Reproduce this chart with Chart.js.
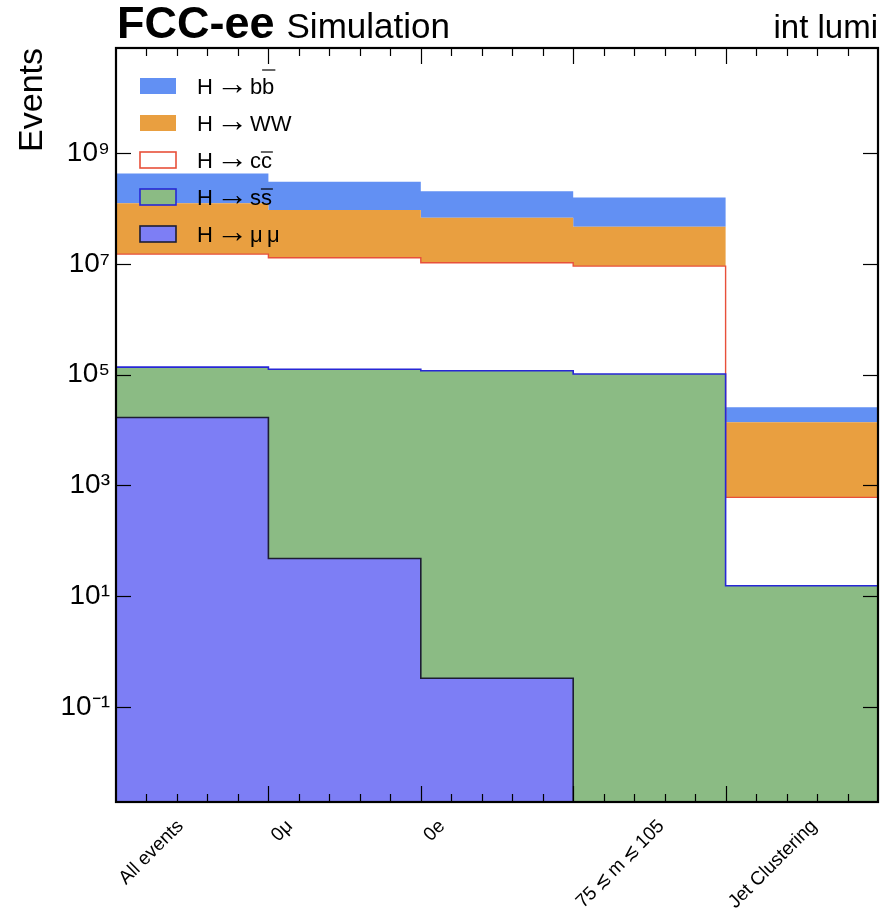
<!DOCTYPE html>
<html>
<head>
<meta charset="utf-8">
<script src="https://cdn.jsdelivr.net/npm/chart.js@4.4.1/dist/chart.umd.min.js"></script>
<style>
  html, body { margin: 0; padding: 0; background: #fff; }
  canvas { display: block; }
</style>
</head>
<body>
<canvas id="cutflow" width="891" height="910"></canvas>
<script>
// one bin per cut
const cuts = ['All events', '0\u03bc', '0e', '75\u2009\u2272\u2009m\u2009\u2272\u2009105', 'Jet Clustering'];

// events per process after each cut (not stacked)
const hmumu = [1.69e4, 48, 0.33, 0, 0];
const hss = [1.20e5, 1.25e5, 1.18e5, 1.03e5, 15.5];
const hcc = [1.486e7, 1.277e7, 1.038e7, 9.02e6, 595];
const hww = [1.09e8, 8.06e7, 5.74e7, 3.77e7, 1.32e4];
const hbb = [3.06e8, 2.10e8, 1.38e8, 1.11e8, 1.19e4];

const yTicks = [1e-1, 1e1, 1e3, 1e5, 1e7, 1e9];
const yMin = 1.93e-3;
const yMax = 7.9e10;

const FONT = "'Liberation Sans', Arial, Helvetica, sans-serif";
Chart.defaults.font.family = FONT;
Chart.defaults.color = '#000';

// stacking order: bottom first. "bar" is the letter drawn with an overline
const series = [
  { prod: '\u03bc\u2009\u03bc', bar: '', values: hmumu, fill: '#7d7ef5', edge: '#1d1d33', lw: 1.6 },
  { prod: 's', bar: 's', tall: false, values: hss, fill: '#8bbb84', edge: '#2727d6', lw: 1.6 },
  { prod: 'c', bar: 'c', tall: false, values: hcc, fill: '#ffffff', edge: '#e8503a', lw: 1.4 },
  { prod: 'WW', bar: '', values: hww, fill: '#e99f40', edge: '#e99f40', lw: 0 },
  { prod: 'b', bar: 'b', tall: true, values: hbb, fill: '#6290f3', edge: '#6290f3', lw: 0 }
];

// histogram steps: one point per bin edge, zero bins sit on the axis floor
function stepPoints(values) {
  const pts = values.map((v, i) => ({ x: i, y: v > 0 ? v : yMin }));
  pts.push({ x: values.length, y: pts[pts.length - 1].y });
  return pts;
}

const SUP = { '-': '\u207b', '0': '\u2070', '1': '\u00b9', '2': '\u00b2', '3': '\u00b3', '4': '\u2074',
  '5': '\u2075', '6': '\u2076', '7': '\u2077', '8': '\u2078', '9': '\u2079' };
function sup(n) {
  return String(n).split('').map(c => SUP[c]).join('');
}

const decorations = {
  id: 'decorations',
  afterDraw(chart) {
    const { ctx, chartArea: a, scales: { x, y } } = chart;
    ctx.save();

    function seg(x1, y1, x2, y2) {
      ctx.beginPath();
      ctx.moveTo(x1, y1);
      ctx.lineTo(x2, y2);
      ctx.stroke();
    }

    // inward ticks, mplhep style
    ctx.strokeStyle = '#000';
    ctx.lineWidth = 1.2;
    for (let k = 1; k < cuts.length * 5; k++) {
      const px = Math.round(x.getPixelForValue(k / 5)) + 0.5;
      const len = k % 5 === 0 ? 16 : 8;
      seg(px, a.bottom, px, a.bottom - len);
      seg(px, a.top, px, a.top + len);
    }
    yTicks.forEach(v => {
      const py = Math.round(y.getPixelForValue(v)) + 0.5;
      seg(a.left, py, a.left + 15, py);
      seg(a.right, py, a.right - 15, py);
    });

    ctx.lineWidth = 2.2;
    ctx.strokeRect(a.left, a.top, a.right - a.left, a.bottom - a.top);

    // rotated cut names, starting at the left edge of each bin
    const fs = 19;
    ctx.font = fs + 'px ' + FONT;
    ctx.fillStyle = '#000';
    ctx.textAlign = 'left';
    ctx.textBaseline = 'alphabetic';
    const asc = 0.74 * fs;
    cuts.forEach((c, i) => {
      const w = ctx.measureText(c).width;
      const x0 = x.getPixelForValue(i) + asc * 0.707;
      const y0 = a.bottom + 15 + (w + asc) * 0.707;
      ctx.save();
      ctx.translate(x0, y0);
      ctx.rotate(-Math.PI / 4);
      ctx.fillText(c, 0, 0);
      ctx.restore();
    });

    // legend, top of the list is the top of the stack
    const txtFont = '22px ' + FONT;
    const arrowFont = '32px ' + FONT;
    series.slice().reverse().forEach((s, r) => {
      const cy = 86 + 37 * r;
      ctx.fillStyle = s.fill;
      ctx.fillRect(140, cy - 8, 36, 16);
      if (s.lw > 0) {
        ctx.strokeStyle = s.edge;
        ctx.lineWidth = 1.6;
        ctx.strokeRect(140, cy - 8, 36, 16);
      }
      const base = cy + 8;
      let cx = 197;
      ctx.fillStyle = '#000';
      ctx.font = txtFont;
      ctx.fillText('H', cx, base);
      cx += ctx.measureText('H').width + 3;
      ctx.font = arrowFont;
      ctx.fillText('\u2192', cx, base);
      cx += ctx.measureText('\u2192').width + 2;
      ctx.font = txtFont;
      ctx.fillText(s.prod + s.bar, cx, base);
      if (s.bar) {
        const x1 = cx + ctx.measureText(s.prod).width;
        const x2 = x1 + ctx.measureText(s.bar).width;
        const by = base - (s.tall ? 24 : 16);
        ctx.strokeStyle = '#000';
        ctx.lineWidth = 1.2;
        seg(x1, by, x2 + 1, by);
      }
    });

    // header
    ctx.fillStyle = '#000';
    ctx.font = 'bold 45px ' + FONT;
    ctx.fillText('FCC-ee', 117, 38);
    const wf = ctx.measureText('FCC-ee').width;
    ctx.font = '35px ' + FONT;
    ctx.fillText('Simulation', 117 + wf + 12, 38);
    ctx.textAlign = 'right';
    ctx.font = '33px ' + FONT;
    ctx.fillText('int lumi', a.right, 38);

    ctx.restore();
  }
};

new Chart(document.getElementById('cutflow'), {
  type: 'line',
  data: {
    datasets: series.map((s, i) => ({
      label: 'H \u2192 ' + s.prod + s.bar,
      data: stepPoints(s.values),
      stepped: true,
      fill: i === 0 ? 'start' : '-1',
      backgroundColor: s.fill,
      borderColor: s.edge,
      borderWidth: s.lw,
      pointRadius: 0,
      tension: 0
    }))
  },
  options: {
    responsive: false,
    animation: false,
    devicePixelRatio: 1,
    layout: { padding: { top: 48, right: 13, bottom: 108, left: 0 } },
    plugins: {
      legend: { display: false },
      tooltip: { enabled: false }
    },
    scales: {
      x: { type: 'linear', min: 0, max: cuts.length, display: false },
      y: {
        type: 'logarithmic',
        stacked: true,
        min: yMin,
        max: yMax,
        afterBuildTicks: axis => { axis.ticks = yTicks.map(v => ({ value: v })); },
        afterFit: axis => { axis.width = 116; },
        grid: { display: false, drawTicks: false },
        border: { display: false },
        ticks: {
          font: { size: 28 },
          color: '#000',
          padding: 6,
          autoSkip: false,
          callback: v => '10' + sup(Math.round(Math.log10(v)))
        },
        title: {
          display: true,
          text: 'Events',
          align: 'end',
          color: '#000',
          font: { size: 34 },
          padding: { top: 12, bottom: 0 }
        }
      }
    }
  },
  plugins: [decorations]
});
</script>
</body>
</html>
